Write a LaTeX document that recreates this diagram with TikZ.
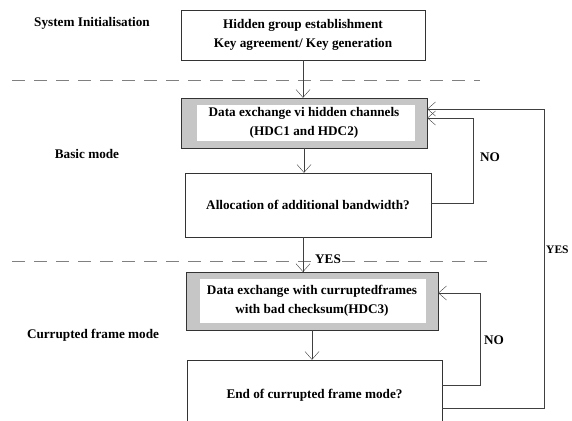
\documentclass[tikz,border=0pt]{standalone}
\usepackage{fontspec}
\setmainfont{Liberation Serif}
\usetikzlibrary{arrows.meta}

\tikzset{
  box/.style={draw=black!80, fill=white, inner sep=0pt, align=center},
  framebox/.style={box, fill=lightgray!90,
    path picture={\fill[white]
      ([xshift=#1pt,yshift=-7pt]path picture bounding box.north west) rectangle
      ([xshift=-12pt,yshift=7pt]path picture bounding box.south east);}},
  link/.style={draw=black!75, -{Straight Barb[length=8pt,width=14pt]}},
  sep/.style={gray, thick, dash pattern=on 13pt off 9pt}
}

\begin{document}
\begin{tikzpicture}[x=1pt, y=-1pt, every node/.style={font=\fontsize{13.2}{19}\selectfont\bfseries}]

  \useasboundingbox (0,0) rectangle (572,420);

  % separators
  \draw [sep] (12,80) -- (480,80);
  \draw [sep] (12,261) -- (493,261);

  % mode labels
  \node (sysinit) at (92,23) {System Initialisation};
  \node (basic) at (87,154) {Basic mode};
  \node (curr) at (93,335) {Currupted frame mode};

  % boxes
  \node [box, minimum width=244pt, minimum height=50pt] (hidden) at (303,35)
    {Hidden group establishment\\ Key agreement/ Key generation};
  \node [framebox=16, minimum width=246pt, minimum height=50pt] (dex) at (304,123)
    {Data exchange vi hidden channels\\ (HDC1 and HDC2)};
  \node [box, minimum width=246pt, minimum height=64pt] (alloc) at (308,205)
    {Allocation of additional bandwidth?};
  \node [framebox=14, minimum width=252pt, minimum height=58pt] (cfx) at (312,301)
    {Data exchange with curruptedframes\\ with bad checksum(HDC3)};
  \node [box, minimum width=255pt, minimum height=70pt] (endm) at (314.5,395)
    {End of currupted frame mode?};

  % loop corners
  \coordinate (no1) at (473,118);
  \coordinate (yes1) at (544,109);
  \coordinate (no2) at (480,293);

  % main flow
  \draw [link] (hidden.south) -- (hidden.south |- dex.north);
  \draw [link] (dex.south) -- (dex.south |- alloc.north);
  \draw [link] (303,237) -- (303,272);
  \draw [link] (cfx.south) -- (cfx.south |- endm.north);

  % YES on the flow
  \node [fill=white, inner sep=1pt] (yeslbl) at (328,259) {YES};

  % NO loops
  \draw [link] ([yshift=2pt]alloc.east) -| (no1) -- (no1 -| dex.east);
  \node (nolbl1) at (490,157) {NO};
  \draw [link] ([yshift=10pt]endm.east) -| (no2) -- (no2 -| cfx.east);
  \node (nolbl2) at (494,340) {NO};

  % YES loop
  \draw [link] ([yshift=-13pt]endm.east) -| (yes1) -- (yes1 -| dex.east);
  \node [anchor=west, inner sep=0pt, font=\fontsize{11.5}{14}\selectfont\bfseries] (yeslbl2) at (546,250) {YES};

\end{tikzpicture}
\end{document}
